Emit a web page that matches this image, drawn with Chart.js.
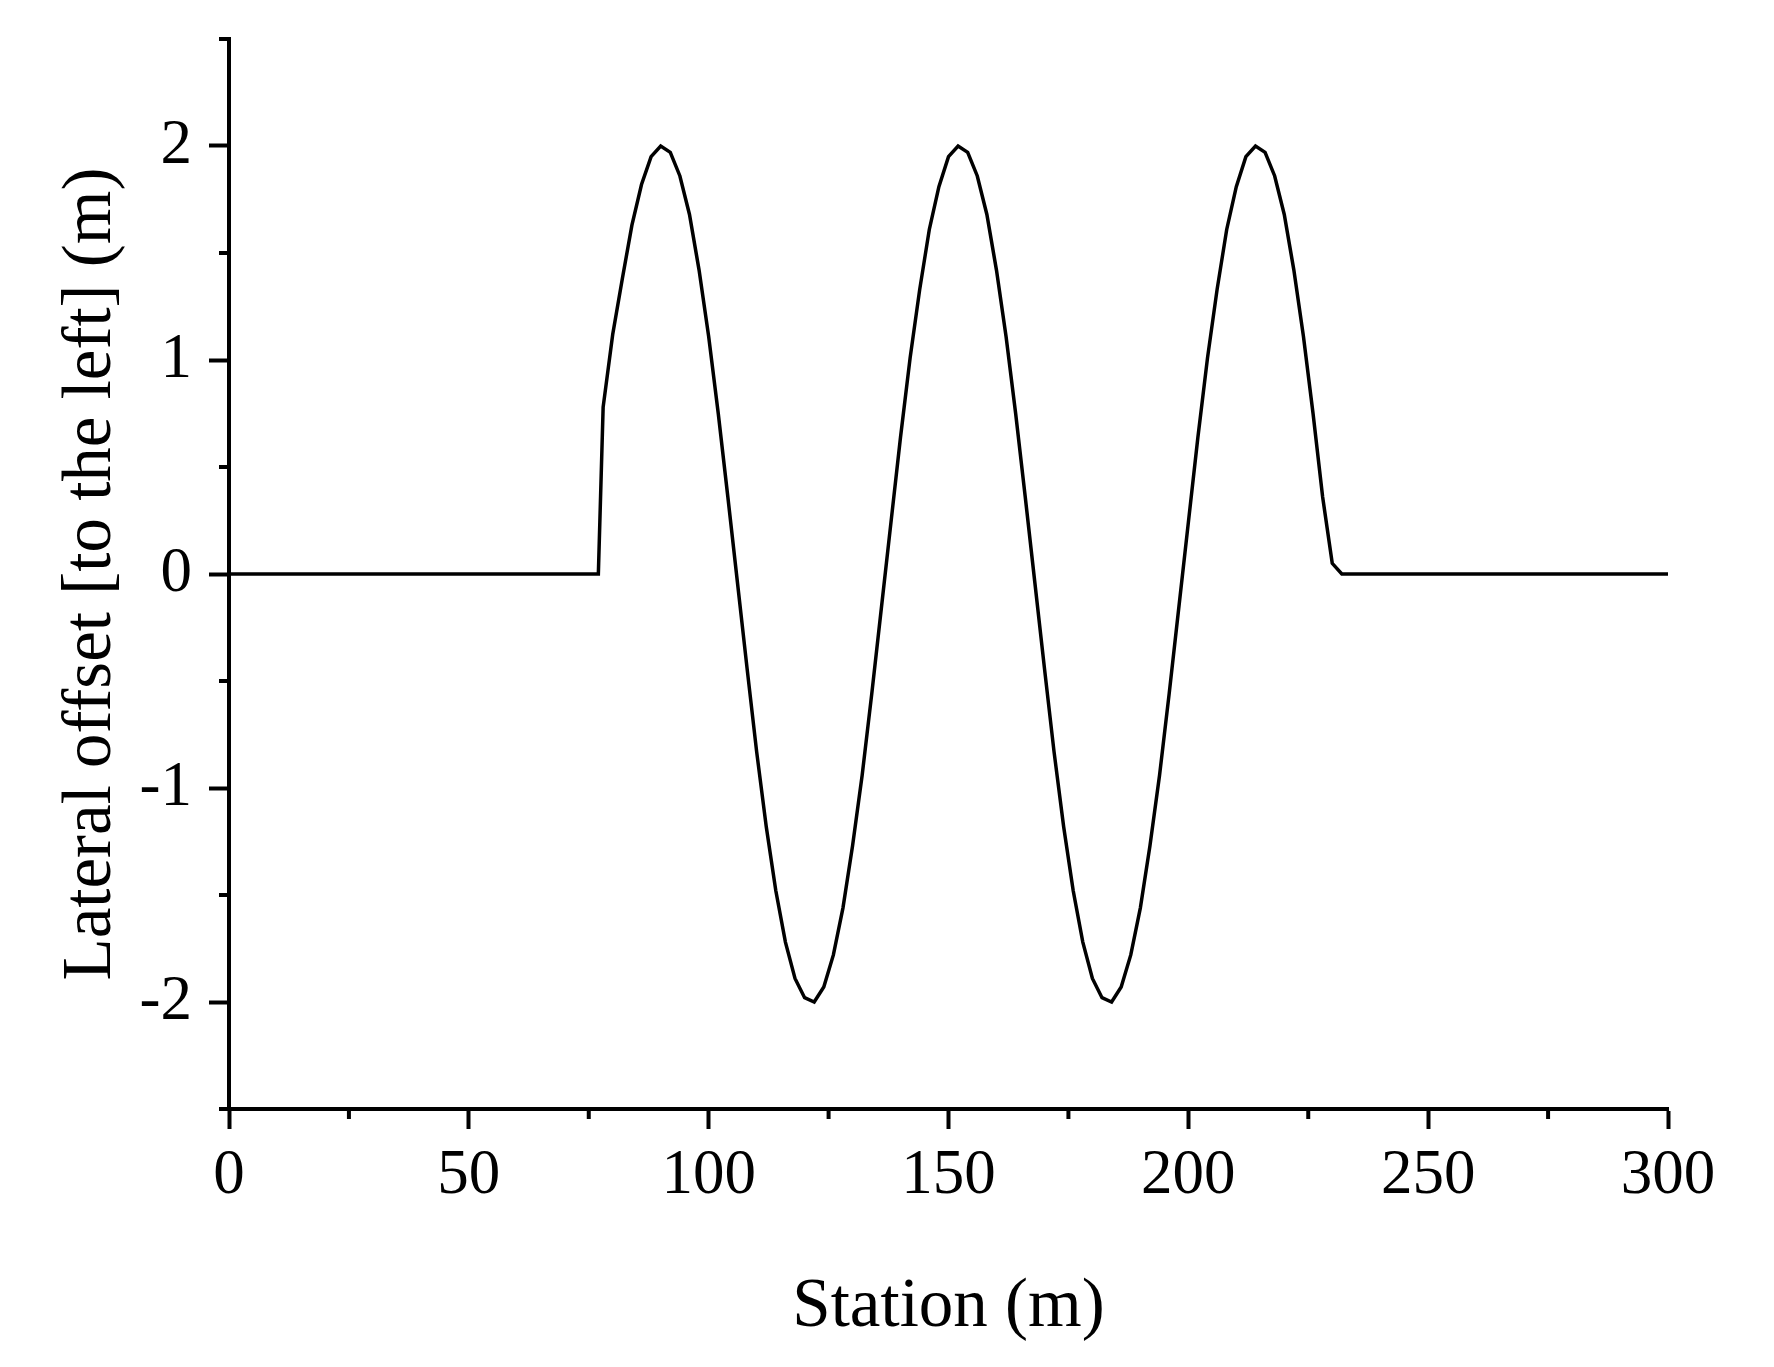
<!DOCTYPE html>
<html>
<head>
<meta charset="utf-8">
<script src="https://cdn.jsdelivr.net/npm/chart.js@4.4.1/dist/chart.umd.min.js"></script>
<style>
  html, body { margin: 0; padding: 0; background: #fff; }
  #wrap { width: 1774px; height: 1367px; position: relative; }
</style>
</head>
<body>
<div id="wrap"><canvas id="chart"></canvas></div>
<script>
// station along the road (m)
var station = [0, 77, 78, 80, 82, 84, 86, 88, 90, 92, 94, 96, 98, 100, 102, 104, 106, 108, 110,
  112, 114, 116, 118, 120, 122, 124, 126, 128, 130, 132, 134, 136, 138, 140, 142, 144, 146, 148,
  150, 152, 154, 156, 158, 160, 162, 164, 166, 168, 170, 172, 174, 176, 178, 180, 182, 184, 186,
  188, 190, 192, 194, 196, 198, 200, 202, 204, 206, 208, 210, 212, 214, 216, 218, 220, 222, 224,
  226, 228, 230, 232, 300]

// lateral offset to the left (m)
var offset = [0, 0, 0.78, 1.12, 1.38, 1.63, 1.82, 1.95, 2.00, 1.97, 1.86, 1.68, 1.42, 1.11, 0.75, 0.36, -0.04, -0.44, -0.83,
  -1.18, -1.48, -1.72, -1.89, -1.98, -2.00, -1.93, -1.78, -1.56, -1.27, -0.94, -0.56, -0.16, 0.24, 0.64, 1.01, 1.33, 1.61, 1.81,
  1.95, 2.00, 1.97, 1.86, 1.68, 1.42, 1.11, 0.75, 0.36, -0.04, -0.44, -0.83, -1.18, -1.48, -1.72, -1.89, -1.98, -2.00, -1.93,
  -1.78, -1.56, -1.27, -0.94, -0.56, -0.16, 0.24, 0.64, 1.01, 1.33, 1.61, 1.81, 1.95, 2.00, 1.97, 1.86, 1.68, 1.42, 1.11,
  0.75, 0.36, 0.05, 0, 0]

var xRange = [0, 300]
var yRange = [-2.5, 2.5]
var xMajor = 50, xMinor = 25
var yMajor = 1, yMinor = 0.5

var FONT = "'Liberation Serif', 'Times New Roman', serif"

// small outward ticks between the labelled ones
var minorTicks = {
    id: 'minorTicks',
    afterDraw: function (chart) {
        var ctx = chart.ctx
        var area = chart.chartArea
        var xs = chart.scales.x, ys = chart.scales.y
        ctx.save()
        ctx.strokeStyle = '#000'
        ctx.lineWidth = 4
        xs.ticks.forEach(t => {
            if (t.value % xMajor !== 0) {
                var px = xs.getPixelForValue(t.value)
                ctx.beginPath()
                ctx.moveTo(px, area.bottom)
                ctx.lineTo(px, area.bottom + 10)
                ctx.stroke()
            }
        })
        ys.ticks.forEach(t => {
            if (Math.abs(t.value % yMajor) > 1e-6) {
                var py = ys.getPixelForValue(t.value)
                ctx.beginPath()
                ctx.moveTo(area.left, py)
                ctx.lineTo(area.left - 10, py)
                ctx.stroke()
            }
        })
        ctx.restore()
    }
}

var points = station.map((s, i) => ({ x: s, y: offset[i] }))

new Chart(document.getElementById('chart'), {
    type: 'line',
    data: {
        datasets: [{
            data: points,
            borderColor: '#000',
            borderWidth: 3.5,
            pointRadius: 0,
            tension: 0,
            fill: false
        }]
    },
    options: {
        responsive: true,
        maintainAspectRatio: false,
        animation: false,
        layout: { padding: { top: 39, right: 106, left: 0, bottom: 0 } },
        plugins: { legend: { display: false }, tooltip: { enabled: false } },
        scales: {
            x: {
                type: 'linear',
                min: xRange[0],
                max: xRange[1],
                afterFit: function (s) { s.height = 258; s.paddingLeft = 0; s.paddingRight = 0 },
                border: { display: true, color: '#000', width: 4 },
                grid: {
                    drawOnChartArea: false,
                    drawTicks: true,
                    tickLength: 20,
                    tickWidth: 4,
                    tickColor: c => (c.tick && c.tick.value % xMajor === 0) ? '#000' : 'rgba(0,0,0,0)'
                },
                ticks: {
                    stepSize: xMinor,
                    padding: 10,
                    maxRotation: 0,
                    autoSkip: false,
                    color: '#000',
                    font: { family: FONT, size: 63, lineHeight: 1.2 },
                    callback: v => v % xMajor === 0 ? String(v) : ''
                },
                title: {
                    display: true,
                    text: 'Station (m)',
                    color: '#000',
                    font: { family: FONT, size: 69, lineHeight: 1.2 },
                    padding: { top: 0, bottom: 18 }
                }
            },
            y: {
                type: 'linear',
                min: yRange[0],
                max: yRange[1],
                afterFit: function (s) { s.width = 229; s.paddingTop = 0; s.paddingBottom = 0 },
                border: { display: true, color: '#000', width: 4 },
                grid: {
                    drawOnChartArea: false,
                    drawTicks: true,
                    tickLength: 20,
                    tickWidth: 4,
                    tickColor: c => (c.tick && Math.abs(c.tick.value % yMajor) < 1e-6) ? '#000' : 'rgba(0,0,0,0)'
                },
                ticks: {
                    stepSize: yMinor,
                    padding: 17,
                    autoSkip: false,
                    color: '#000',
                    font: { family: FONT, size: 63, lineHeight: 1.2 },
                    callback: v => Math.abs(v % yMajor) < 1e-6 ? String(v) : ''
                },
                title: {
                    display: true,
                    text: 'Lateral offset [to the left] (m)',
                    color: '#000',
                    font: { family: FONT, size: 69, lineHeight: 1.2 },
                    padding: { top: 50, bottom: 0 }
                }
            }
        }
    },
    plugins: [minorTicks]
})
</script>
</body>
</html>
